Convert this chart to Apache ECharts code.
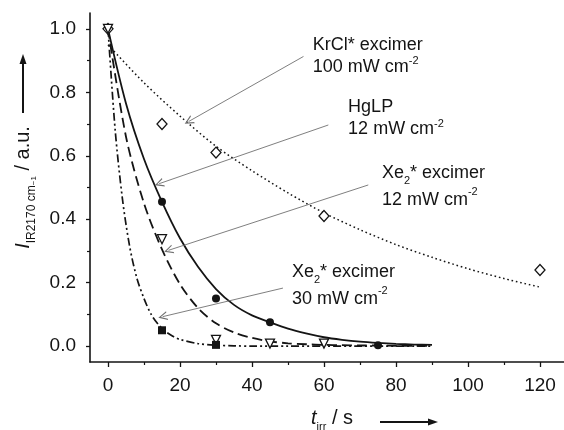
<!DOCTYPE html>
<html>
<head>
<meta charset="utf-8">
<script src="https://cdn.jsdelivr.net/npm/echarts@6/dist/echarts.min.js"></script>
<style>
  html, body { margin: 0; padding: 0; background: #fff; }
  #chart { width: 564px; height: 430px; }
</style>
</head>
<body>
<div id="chart"></div>
<script>
// measured points
const krclTime = [0, 15, 30, 60, 120];
const krclValue = [1.0, 0.70, 0.61, 0.41, 0.24];
const hglpTime = [15, 30, 45, 75];
const hglpValue = [0.455, 0.15, 0.075, 0.003];
const xe12Time = [0, 15, 30, 45, 60];
const xe12Value = [1.0, 0.337, 0.02, 0.008, 0.008];
const xe30Time = [15, 30];
const xe30Value = [0.05, 0.004];

// fitted curves
const krclFitTime = [0, 10, 20, 30, 40, 50, 60, 70, 80, 90, 100, 110, 120];
const krclFitValue = [0.95, 0.83, 0.725, 0.63, 0.553, 0.483, 0.42, 0.367, 0.32, 0.28, 0.244, 0.213, 0.186];
const hglpFitTime = [0, 5, 10, 15, 20, 25, 30, 35, 40, 45, 50, 55, 60, 65, 70, 75, 80, 85, 90];
const hglpFitValue = [1.0, 0.765, 0.59, 0.455, 0.34, 0.25, 0.18, 0.13, 0.097, 0.075, 0.055, 0.04, 0.028, 0.02, 0.014, 0.01, 0.007, 0.005, 0.004];
const xe12FitTime = [0, 5, 10, 15, 20, 25, 30, 35, 40, 45, 50, 55, 60, 65, 70, 75, 80, 85, 90];
const xe12FitValue = [1.0, 0.66, 0.45, 0.305, 0.195, 0.12, 0.072, 0.043, 0.026, 0.015, 0.009, 0.006, 0.004, 0.003, 0.002, 0.002, 0.001, 0.001, 0.001];
const xe30FitTime = [0, 2, 4, 6, 8, 10, 12, 14, 16, 18, 20, 25, 30, 35, 40, 50, 60, 70, 80, 90];
const xe30FitValue = [1.0, 0.68, 0.465, 0.315, 0.215, 0.15, 0.10, 0.068, 0.046, 0.031, 0.021, 0.008, 0.003, 0.001, 0, 0, 0, 0, 0, 0];

// axis ticks
const xMajorTicks = [0, 20, 40, 60, 80, 100, 120];
const xMinorTicks = [10, 30, 50, 70, 90, 110];
const yMajorTicks = [0, 0.2, 0.4, 0.6, 0.8, 1.0];
const yMinorTicks = [0.1, 0.3, 0.5, 0.7, 0.9];

// annotations (data coordinates)
const noteText = [
  '{t|KrCl* excimer}\n{t|100 mW cm}{sup|-2}',
  '{t|HgLP}\n{t|12 mW cm}{sup|-2}',
  '{T|Xe}{sub|2}{T|* excimer}\n{T|12 mW cm}{sup|-2}',
  '{T|Xe}{sub|2}{T|* excimer}\n{T|30 mW cm}{sup|-2}'
];
const noteAt = [[56.9, 0.915], [66.7, 0.719], [76.1, 0.503], [51.1, 0.191]];
const arrowFrom = [[54.3, 0.913], [61.2, 0.697], [72.3, 0.508], [48.6, 0.183]];
const arrowTo = [[22.4, 0.708], [14.2, 0.512], [16.8, 0.302], [15.2, 0.093]];

const FONT = 'Liberation Sans, Arial, sans-serif';
const INK = '#141414';

const zip = (xs, ys) => xs.map((x, i) => [x, ys[i]]);

const chart = echarts.init(document.getElementById('chart'));

const fitLine = (name, xs, ys, type, width) => ({
  name: name,
  type: 'line',
  data: zip(xs, ys),
  showSymbol: false,
  smooth: 0.3,
  silent: true,
  z: 2,
  lineStyle: { color: INK, width: width, type: type }
});

const points = (name, xs, ys, symbol, size, filled, rotate) => ({
  name: name,
  type: 'scatter',
  data: zip(xs, ys),
  symbol: symbol,
  symbolSize: size,
  symbolRotate: rotate || 0,
  z: 5,
  itemStyle: filled
    ? { color: INK, opacity: 1 }
    : { color: '#fff', borderColor: INK, borderWidth: 1.3, opacity: 1 }
});

const arrowHead = 'path://M5,0L10,10L8.6,10L5,2.8L1.4,10L0,10Z';

const noteRich = {
  t: { fontFamily: FONT, fontSize: 18, color: INK, lineHeight: 22 },
  T: { fontFamily: FONT, fontSize: 18, color: INK, lineHeight: 27 },
  sub: { fontFamily: FONT, fontSize: 11, color: INK, lineHeight: 13, verticalAlign: 'bottom' },
  sup: { fontFamily: FONT, fontSize: 11, color: INK, lineHeight: 13, verticalAlign: 'top' }
};

const option = {
  animation: false,
  backgroundColor: '#fff',
  grid: { left: 90, right: 0, top: 13, bottom: 68, containLabel: false, outerBoundsMode: 'none' },
  xAxis: [{
    type: 'value',
    min: -5,
    max: 126.67,
    position: 'bottom',
    name: '{i|t}{s|irr}{n| / s}',
    nameLocation: 'middle',
    nameGap: 42,
    nameTextStyle: {
      padding: [0, 0, 0, 10],
      rich: {
        i: { fontFamily: FONT, fontSize: 20, fontStyle: 'italic', color: INK, lineHeight: 28 },
        s: { fontFamily: FONT, fontSize: 11, color: INK, lineHeight: 12, verticalAlign: 'bottom' },
        n: { fontFamily: FONT, fontSize: 20, color: INK, lineHeight: 28 }
      }
    },
    axisLine: { show: true, onZero: false, lineStyle: { color: INK, width: 1.6 } },
    axisTick: { show: true, length: 5, customValues: xMajorTicks, lineStyle: { color: INK, width: 1.3 } },
    axisLabel: {
      customValues: xMajorTicks,
      margin: 14,
      fontFamily: FONT,
      fontSize: 19,
      color: INK
    },
    splitLine: { show: false }
  }, {
    type: 'value',
    min: -5,
    max: 126.67,
    position: 'bottom',
    axisLine: { show: false, onZero: false },
    axisTick: { show: true, length: 3, customValues: xMinorTicks, lineStyle: { color: INK, width: 1.2 } },
    axisLabel: { show: false },
    splitLine: { show: false }
  }],
  yAxis: [{
    type: 'value',
    min: -0.05,
    max: 1.05,
    position: 'left',
    name: '{i|I}{s|IR2170 cm}{ss|−1}{n| / a.u.}',
    nameLocation: 'middle',
    nameRotate: 90,
    nameGap: 52,
    nameTextStyle: {
      rich: {
        i: { fontFamily: FONT, fontSize: 20, fontStyle: 'italic', color: INK, lineHeight: 30 },
        s: { fontFamily: FONT, fontSize: 12, color: INK, lineHeight: 14, verticalAlign: 'bottom' },
        ss: { fontFamily: FONT, fontSize: 8, color: INK, lineHeight: 24, verticalAlign: 'bottom' },
        n: { fontFamily: FONT, fontSize: 20, color: INK, lineHeight: 30 }
      }
    },
    axisLine: { show: true, onZero: false, lineStyle: { color: INK, width: 1.6 } },
    axisTick: { show: true, length: 4, customValues: yMajorTicks, lineStyle: { color: INK, width: 1.3 } },
    axisLabel: {
      customValues: yMajorTicks,
      margin: 14,
      fontFamily: FONT,
      fontSize: 19,
      color: INK,
      formatter: v => v.toFixed(1)
    },
    splitLine: { show: false }
  }, {
    type: 'value',
    min: -0.05,
    max: 1.05,
    position: 'left',
    axisLine: { show: false, onZero: false },
    axisTick: { show: true, length: 3, customValues: yMinorTicks, lineStyle: { color: INK, width: 1.2 } },
    axisLabel: { show: false },
    splitLine: { show: false }
  }],
  series: [
    fitLine('KrCl fit', krclFitTime, krclFitValue, [1.6, 2.8], 1.5),
    fitLine('HgLP fit', hglpFitTime, hglpFitValue, 'solid', 1.8),
    fitLine('Xe12 fit', xe12FitTime, xe12FitValue, [10, 5], 1.8),
    fitLine('Xe30 fit', xe30FitTime, xe30FitValue, [8, 3, 2, 3, 2, 3], 1.7),
    points('KrCl', krclTime, krclValue, 'diamond', [10, 11], false),
    points('Xe12', xe12Time, xe12Value, 'triangle', 9, false, 180),
    points('HgLP', hglpTime, hglpValue, 'circle', 8, true),
    points('Xe30', xe30Time, xe30Value, 'rect', 8, true),
    {
      name: 'notes',
      type: 'scatter',
      data: [],
      silent: true,
      markLine: {
        silent: true,
        symbol: ['none', arrowHead],
        symbolSize: 9,
        label: { show: false },
        emphasis: { disabled: true },
        lineStyle: { color: '#707070', width: 0.9, type: 'solid' },
        data: arrowFrom.map((p, i) => [{ coord: p }, { coord: arrowTo[i] }])
      },
      markPoint: {
        silent: true,
        symbol: 'circle',
        symbolSize: 0,
        label: {
          show: true,
          position: 'right',
          distance: 0,
          align: 'left',
          verticalAlign: 'middle',
          rich: noteRich
        },
        data: noteAt.map((p, i) => ({ coord: p, label: { formatter: noteText[i] } }))
      }
    }
  ],
  graphic: [
    { type: 'line', shape: { x1: 23, y1: 113, x2: 23, y2: 62 }, style: { stroke: INK, lineWidth: 2 } },
    { type: 'polygon', shape: { points: [[23, 54], [19.5, 64], [26.5, 64]] }, style: { fill: INK } },
    { type: 'line', shape: { x1: 380, y1: 422, x2: 430, y2: 422 }, style: { stroke: INK, lineWidth: 2 } },
    { type: 'polygon', shape: { points: [[438, 422], [428, 418.5], [428, 425.5]] }, style: { fill: INK } }
  ]
};

chart.setOption(option);
</script>
</body>
</html>
